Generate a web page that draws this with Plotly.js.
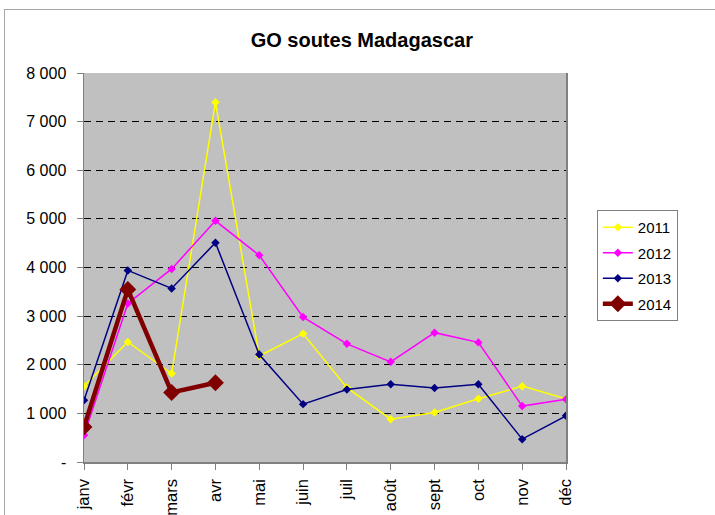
<!DOCTYPE html>
<html>
<head>
<meta charset="utf-8">
<script src="https://cdn.plot.ly/plotly-3.0.1.min.js"></script>
<style>
  html, body { margin: 0; padding: 0; background: #fff; }
  #wrap { position: relative; width: 715px; height: 515px; overflow: hidden; }
  #frame { position: absolute; left: 4px; top: 9px; width: 740px; height: 540px; border: 1px solid #a6a6a6; pointer-events: none; }
  #chart { position: absolute; left: 0; top: 0; width: 715px; height: 515px; }
</style>
</head>
<body>
<div id="wrap">
  <div id="chart"></div>
  <div id="frame"></div>
</div>
<script>
const months = ["janv", "févr", "mars", "avr", "mai", "juin", "juil", "août", "sept", "oct", "nov", "déc"];
const y2011 = [1560, 2470, 1820, 7400, 2180, 2640, 1530, 880, 1020, 1300, 1560, 1300];
const y2012 = [550, 3260, 3970, 4960, 4250, 2980, 2430, 2060, 2660, 2460, 1150, 1290];
const y2013 = [1270, 3940, 3570, 4510, 2210, 1190, 1490, 1600, 1520, 1600, 470, 950];
const y2014 = [720, 3550, 1430, 1630];
const yTickVals = [0, 1000, 2000, 3000, 4000, 5000, 6000, 7000, 8000];
const yTickText = ["-", "1 000", "2 000", "3 000", "4 000", "5 000", "6 000", "7 000", "8 000"];

const font = "Liberation Sans, Arial, sans-serif";

function series(name, ys, color, width, msize, group) {
  return {
    type: "scatter", mode: "lines+markers", name: name,
    x: months.slice(0, ys.length), y: ys,
    line: { color: color, width: width },
    marker: { symbol: "diamond", size: msize, color: color },
    legendgroup: group
  };
}

const data = [
  series("2011", y2011, "#FFFF00", 1.5, 6.5, "a"),
  series("2012", y2012, "#FF00FF", 1.5, 6.5, "b"),
  series("2013", y2013, "#000080", 1.5, 6.5, "c"),
  series("2014", y2014, "#800000", 4.5, 13, "d")
];

const layout = {
  width: 715, height: 515,
  margin: { l: 84, r: 149, t: 73, b: 53, pad: 0 },
  paper_bgcolor: "rgba(0,0,0,0)",
  plot_bgcolor: "#C0C0C0",
  font: { family: font, color: "#000", size: 16 },
  title: {
    text: "<b>GO soutes Madagascar</b>",
    font: { family: font, size: 20, color: "#000" },
    x: 0.506, xref: "container", xanchor: "center",
    y: 0.922, yref: "container", yanchor: "middle"
  },
  showlegend: true,
  legend: {
    x: 1.064, xanchor: "left", y: 0.648, yanchor: "top",
    bgcolor: "#fff", bordercolor: "#808080", borderwidth: 1,
    font: { family: font, size: 15, color: "#000" },
    traceorder: "grouped", tracegroupgap: 3
  },
  xaxis: {
    type: "category",
    categoryorder: "array", categoryarray: months,
    range: [0, 11],
    showgrid: false, zeroline: false,
    showline: true, linecolor: "#808080", linewidth: 1.5,
    ticks: "outside", ticklen: 6, tickcolor: "#808080", tickwidth: 1,
    tickangle: -90,
    ticklabelstandoff: 3,
    tickfont: { family: font, size: 16.5, color: "#000" }
  },
  yaxis: {
    range: [0, 8000],
    tickvals: yTickVals, ticktext: yTickText,
    showgrid: true, gridcolor: "#000", gridwidth: 1, griddash: "7px,5px",
    zeroline: false,
    showline: true, mirror: true, linecolor: "#808080", linewidth: 1.5,
    ticks: "outside", ticklen: 6, tickcolor: "#808080", tickwidth: 1,
    ticklabelstandoff: 7,
    tickfont: { family: font, size: 16, color: "#000" }
  }
};

Plotly.newPlot("chart", data, layout, { displayModeBar: false, staticPlot: true });
</script>
</body>
</html>
